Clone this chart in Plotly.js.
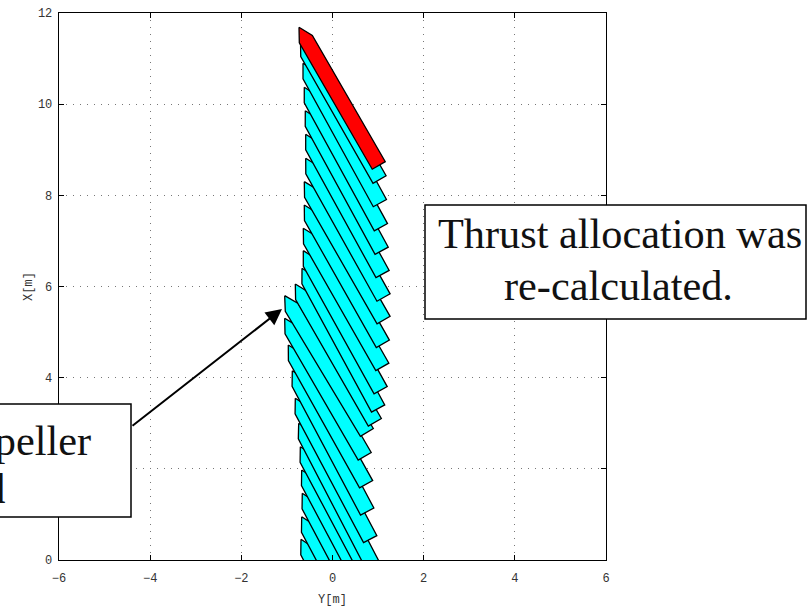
<!DOCTYPE html>
<html><head><meta charset="utf-8">
<script src="https://cdn.plot.ly/plotly-3.0.1.min.js"></script>
<style>html,body{margin:0;padding:0;background:#fff;overflow:hidden}</style>
</head><body><div id="chart" style="width:809px;height:607px"></div>
<script>
// Bow positions and headings, earliest (bottom) to latest (top)
const shipY = [-0.691,-0.676,-0.663,-0.676,-0.706,-0.742,-0.816,-0.882,-0.970,-1.049,-1.049,-0.816,-0.669,-0.641,-0.641,-0.619,-0.619,-0.588,-0.588,-0.597,-0.619,-0.647,-0.702,-0.735];
const shipX = [0.454,0.950,1.463,1.975,2.486,2.999,3.548,4.153,4.717,5.303,5.799,6.055,6.400,6.786,7.277,7.789,8.300,8.813,9.340,9.857,10.371,10.897,11.387,11.687];
const headingDeg = [-28,-28,-28,-28,-28,-27.5,-28,-28,-29.2,-30.1,-31,-29.9,-28.5,-29,-29.7,-29.5,-29.8,-29.2,-28.8,-28.6,-28.7,-28.8,-29.7,-30];
// Hull outline in ship axes: along = metres aft of the bow, side = metres to starboard
const hullAlong = [0,0.3,3.5,3.5,0.3,0];
const hullSide = [0,0.165,0.165,-0.165,-0.165,0];
const xTicks = [-6,-4,-2,0,2,4,6];
const yTicks = [0,2,4,6,8,10,12];

const traces = shipY.map((y0,i)=>{
  const a = headingDeg[i]*Math.PI/180;
  const fwd = [Math.sin(a),Math.cos(a)];      // (Y,X) of the bow direction
  const stb = [Math.cos(a),-Math.sin(a)];     // (Y,X) of starboard
  return {
    type:'scatter',mode:'lines',fill:'toself',hoverinfo:'skip',showlegend:false,
    x:hullAlong.map((s,k)=>y0-s*fwd[0]+hullSide[k]*stb[0]),
    y:hullAlong.map((s,k)=>shipX[i]-s*fwd[1]+hullSide[k]*stb[1]),
    fillcolor:i===shipY.length-1?'#ff0000':'#00ffff',
    line:{color:'#000',width:1.3}
  };
});

const L=59,T=13,W=547,H=547;
const px=v=>(v-L)/W, py=v=>1-(v-T)/H;
const serif={family:'"Liberation Serif",serif',size:42.3,color:'#111'};
const mono={family:'"Liberation Mono",monospace',size:12,color:'#333'};
const axis={showline:true,linecolor:'#000',linewidth:1.3,mirror:'ticks',ticks:'inside',ticklen:5,tickcolor:'#000',
  showgrid:true,gridcolor:'#777',griddash:'1px,6px',gridwidth:1,zeroline:false,tickfont:mono};
const note=(text,x,y,anchor)=>({text,xref:'paper',yref:'paper',x:px(x),y:py(y),xanchor:anchor,yanchor:'middle',showarrow:false,font:serif});

Plotly.newPlot('chart',traces,{
  width:809,height:607,paper_bgcolor:'#fff',plot_bgcolor:'#fff',showlegend:false,
  margin:{l:L,r:809-L-W,t:T,b:607-T-H},
  xaxis:{...axis,range:[-6,6],tickvals:xTicks,ticklabelstandoff:6,title:{text:'Y[m]',standoff:12,font:mono}},
  yaxis:{...axis,range:[0,12],tickvals:yTicks,ticklabelstandoff:3,title:{text:'X[m]',standoff:2,font:mono}},
  shapes:[
    {type:'rect',xref:'paper',yref:'paper',x0:px(425),x1:px(806),y0:py(205),y1:py(319),fillcolor:'#fff',line:{color:'#000',width:1.5}},
    {type:'rect',xref:'paper',yref:'paper',x0:px(-20),x1:px(131),y0:py(404),y1:py(517),fillcolor:'#fff',line:{color:'#000',width:1.5}}
  ],
  annotations:[
    note('Thrust allocation was',619.5,234,'center'),
    note('re-calculated.',618,285,'center'),
    note('Propeller',93,440,'right'),
    note('failed',7,488,'right'),
    {xref:'paper',yref:'paper',x:px(282),y:py(309),axref:'pixel',ayref:'pixel',ax:131-282,ay:427-309,
     showarrow:true,arrowhead:2,arrowsize:1.6,arrowwidth:2,arrowcolor:'#000',text:''}
  ]
},{displayModeBar:false,staticPlot:true});
</script></body></html>
